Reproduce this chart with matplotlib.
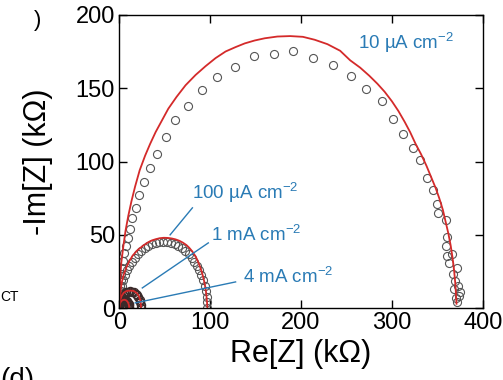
import matplotlib
matplotlib.use('Agg')
import matplotlib.pyplot as plt

plt.rcParams['font.family'] = ['Liberation Sans', 'DejaVu Sans']
plt.rcParams['mathtext.fontset'] = 'custom'
plt.rcParams['mathtext.rm'] = 'Liberation Sans'

# 10 uA cm-2 : measured points
x10 = [0.2, 0.3, 0.5, 0.8, 1.2, 1.8, 2.5, 3.3, 4.4, 5.8, 7.7, 9.5, 11.8, 14.6, 18.4, 22.3, 27.5,
       33.7, 41.8, 51.3, 61.5, 75.4, 90.8, 108, 127.5, 148.4, 170.3, 191.6, 213.5, 234.8, 254.9,
       271.4, 288.5, 300.7, 312.4, 323.4, 330.8, 338.8, 345.4, 349.8, 350.2, 359.3, 360.1, 359.3,
       360.8, 365.6, 363, 371, 366.7, 369.2, 372.9, 368, 374.7, 374, 370.3, 372]
y10 = [1.5, 4, 7, 11, 15, 19, 23, 27.5, 32.2, 37.4, 42.4, 48.1, 54.2, 61.2, 68.5, 77.1, 85.9,
       95.7, 105.4, 116.8, 128.1, 137.6, 148.8, 157.8, 164.2, 171.6, 173.3, 175.5, 170.3, 165.8, 158,
       149.7, 141, 129, 119, 109, 100.7, 88.9, 80.5, 70.7, 65.1, 60.1, 48.8, 42.4,
       35.6, 36.7, 31.1, 27.2, 23.1, 18.6, 15.2, 13.4, 10.7, 8, 6.6, 4]
# 10 uA cm-2 : fit
fx10 = [0, 0.3, 1, 2.3, 4.5, 7, 10, 13.5, 17.5, 22.5, 28.5, 34, 40, 47, 54, 63, 73, 84, 95, 106,
        117, 128, 138, 149, 160, 174, 188, 202, 215, 229, 243, 254, 265, 275, 284, 292, 300, 307,
        314, 320, 326, 332, 338, 343, 348, 352, 356, 359, 362, 364.5, 366.5, 368.3, 369.8, 371]
fy10 = [0, 10, 20, 31, 42, 53, 63, 73, 83, 94, 104, 112, 120, 128, 136, 144, 152, 159, 165, 170.5,
        175, 178, 180.5, 182.5, 184, 185.2, 185.5, 185, 183, 180, 175.5, 169, 164, 158.5, 153, 147.5,
        141, 134.5, 127, 120, 112, 105, 97, 89.5, 82, 75, 67, 59, 51, 43, 35, 26, 16, 3]

# 100 uA cm-2
x100 = [0, 0.2, 0.7, 1.6, 2.9, 4.6, 6.5, 8.8, 11.3, 14.2, 17.3, 20.7, 24.3, 28.0, 31.9, 35.9, 40.1,
        44.3, 48.5, 52.7, 56.9, 61.1, 65.1, 69.0, 72.8, 76.3, 79.7, 82.8, 85.7, 88.2, 90.5, 92.4,
        94.1, 95.3, 96.3, 96.8, 97]
y100 = [0, 3.9, 7.8, 11.7, 15.4, 19.0, 22.5, 25.8, 28.9, 31.8, 34.5, 36.9, 39.0, 40.8, 42.3, 43.5,
        44.3, 44.8, 45.0, 44.8, 44.3, 43.5, 42.3, 40.8, 39.0, 36.9, 34.5, 31.8, 28.9, 25.8, 22.5,
        19.0, 15.4, 11.7, 7.8, 3.9, 0]
fx100 = [0, 0.2, 0.6, 1.5, 3, 5, 8, 11, 15, 20, 26, 32, 36, 40, 44.5, 49, 53.5, 58, 62, 66, 70, 74,
         77, 80, 82.5, 85, 87, 89, 90.7, 92, 93.4, 94.5, 95.4, 96, 96.6, 97]
fy100 = [0, 3, 6, 12, 18, 23, 28, 32, 36, 39.5, 42.5, 45, 46.2, 47, 47.7, 48, 47.9, 47.5, 46.9, 46,
         44.7, 43, 41.2, 39, 36.7, 34, 31.2, 28, 25, 22, 18.5, 15, 11.5, 8, 4, 0]

# 1 mA cm-2
x1m = [0, 0.2, 0.7, 1.6, 2.8, 4.3, 6.0, 7.9, 9.9, 12, 14.1, 16.1, 18.0, 19.7, 21.2, 22.4, 23.3, 23.8, 24]
y1m = [0, 2.0, 3.9, 5.8, 7.4, 8.8, 10.0, 10.8, 11.3, 11.5, 11.3, 10.8, 10.0, 8.8, 7.4, 5.8, 3.9, 2.0, 0]
fx1m = [0, 0.3, 1.2, 2.8, 5, 8, 12, 16, 19.5, 21.8, 23.2, 23.8, 24]
fy1m = [0, 2.8, 5.8, 8.5, 10.5, 11.7, 12, 11.7, 10.2, 8, 5.5, 2.8, 0]

# 4 mA cm-2
x4m = [0, 0.1, 0.3, 0.7, 1.3, 2.0, 2.8, 3.6, 4.5, 5.5, 6.5, 7.4, 8.2, 9.0, 9.7, 10.3, 10.7, 10.9, 11]
y4m = [0, 1.0, 1.9, 2.8, 3.5, 4.2, 4.7, 5.2, 5.4, 5.5, 5.4, 5.2, 4.7, 4.2, 3.5, 2.8, 1.9, 1.0, 0]
fx4m = [0, 0.2, 0.8, 1.9, 3.4, 5.5, 7.6, 9.1, 10.2, 10.8, 11]
fy4m = [0, 1.7, 3.2, 4.5, 5.4, 5.8, 5.4, 4.5, 3.2, 1.7, 0]

labels = [r'10 µA cm$^{\mathregular{-2}}$', r'100 µA cm$^{\mathregular{-2}}$',
          r'1 mA cm$^{\mathregular{-2}}$', r'4 mA cm$^{\mathregular{-2}}$']

red = '#d42a2a'
blue = '#2a7bb5'
grey = '#555555'

fig = plt.figure(figsize=(5.03, 3.8), dpi=100)
ax = fig.add_axes([0.237, 0.189, 0.723, 0.772])

for xs, ys in [(x10, y10), (x100, y100)]:
    ax.plot(xs, ys, 'o', ms=5.8, mfc='none', mec=grey, mew=0.8)
for xs, ys in [(x1m, y1m), (x4m, y4m)]:
    ax.plot(xs, ys, 'o', ms=5.8, mfc='none', mec='#3a2a2a', mew=1.0)
for xs, ys in [(fx10, fy10), (fx100, fy100), (fx1m, fy1m), (fx4m, fy4m)]:
    ax.plot(xs, ys, '-', color=red, lw=1.3)

# leader lines
ax.plot([56, 80.5], [50, 68.4], color=blue, lw=1)
ax.plot([25.4, 98], [13.8, 44.5], color=blue, lw=1)
ax.plot([17.6, 128], [3.6, 17.9], color=blue, lw=1)

ax.text(315, 181, labels[0], color=blue, fontsize=13.5, ha='center', va='center')
ax.text(139, 79, labels[1], color=blue, fontsize=13.5, ha='center', va='center')
ax.text(151, 50, labels[2], color=blue, fontsize=13.5, ha='center', va='center')
ax.text(186, 21.5, labels[3], color=blue, fontsize=13.5, ha='center', va='center')

ax.set_xlim(0, 400)
ax.set_ylim(0, 200)
ax.set_xticks([0, 100, 200, 300, 400])
ax.set_yticks([0, 50, 100, 150, 200])
ax.tick_params(direction='in', length=6, width=1, top=True, right=True, labelsize=17, pad=3)
for s in ax.spines.values():
    s.set_linewidth(1)
ax.set_xlabel('Re[Z] (kΩ)', fontsize=22, labelpad=3)
ax.set_ylabel('-Im[Z] (kΩ)', fontsize=22, labelpad=16)

fig.text(0.068, 0.947, ')', fontsize=16, ha='left', va='center')
fig.text(0.0, 0.218, 'CT', fontsize=10, ha='left', va='center')
fig.text(0.0, 0.033, '(d)', fontsize=20, ha='left', va='top')

fig.savefig('out.png', dpi=100)
